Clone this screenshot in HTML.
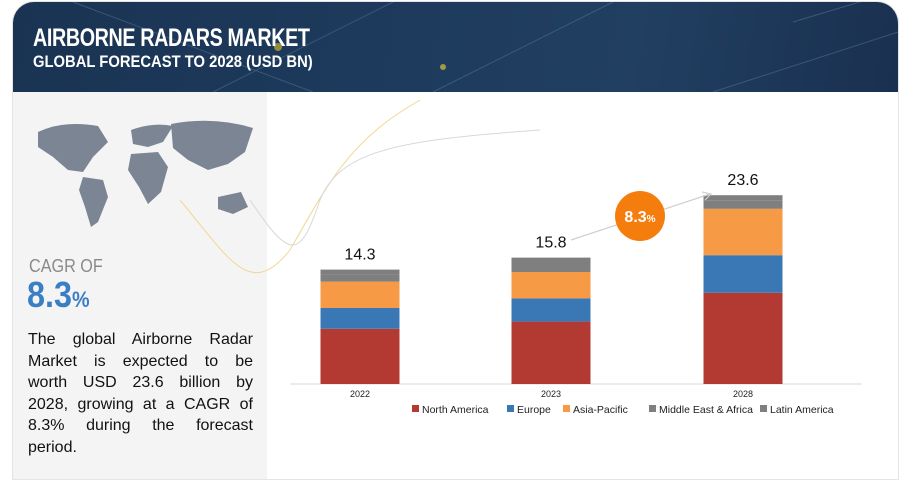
<!DOCTYPE html>
<html><head><meta charset="utf-8"><style>
body{margin:0;width:900px;height:481px;background:#fff;font-family:"Liberation Sans",sans-serif;overflow:hidden;position:relative}
#card{position:absolute;left:12px;top:1px;width:885px;height:477px;border:1px solid #e4e4e4;border-radius:22px 22px 0 0;overflow:hidden}
#hdr{position:absolute;left:0;top:0;width:885px;height:90px;background:linear-gradient(100deg,#1a3352 0%,#1d3a5c 40%,#213f61 70%,#1a3050 100%)}
#hdr h1{position:absolute;left:20px;top:22px;margin:0;color:#fff;font-size:25px;font-weight:bold;letter-spacing:-0.5px;transform:scaleX(0.79);transform-origin:0 0;white-space:nowrap}
#hdr h2{position:absolute;left:20px;top:50px;margin:0;color:#fff;font-size:17px;font-weight:bold;transform:scaleX(0.87);transform-origin:0 0;white-space:nowrap}
#left{position:absolute;left:0;top:90px;width:254px;height:387px;background:#f4f4f4}
#cagrl{position:absolute;left:16px;top:164px;font-size:18px;color:#8a8a8a;transform:scaleX(0.9);transform-origin:0 0}
#cagrv{position:absolute;left:14px;top:182px;font-size:36px;color:#3a7fc4;font-weight:bold;transform:scaleX(0.9);transform-origin:0 0}
#cagrv span{font-size:22px}
#para{position:absolute;left:15px;top:237px;width:225px;font-size:16px;line-height:21.5px;color:#111}
#para span{display:block;text-align:justify;text-align-last:justify;white-space:nowrap}
#para span.last{text-align-last:left}
</style></head><body>
<div id="card">
<div id="hdr">
<svg width="885" height="90" style="position:absolute;left:0;top:0">
<path d="M60 0 L300 90 M380 0 L200 90 M600 0 L420 90 M780 20 L880 -10 M700 90 L885 30" stroke="#5a7a9a" stroke-width="1" opacity="0.5"/>
<circle cx="265" cy="45" r="4" fill="#c9b030" opacity="0.7"/><circle cx="430" cy="65" r="3" fill="#d8c040" opacity="0.7"/>
</svg>
<h1>AIRBORNE RADARS MARKET</h1>
<h2>GLOBAL FORECAST TO 2028 (USD BN)</h2>
</div>
<div id="left">
<svg width="254" height="140" style="position:absolute;left:0;top:20px">
<g fill="#7b8593">
<path d="M25 20 Q50 8 85 14 L95 30 L80 45 L70 60 L55 58 L40 45 L25 35Z"/>
<path d="M70 65 L90 68 L95 85 L85 110 L78 115 L72 95 L66 78Z"/>
<path d="M118 18 Q140 10 160 14 L150 30 L135 35 L120 32Z"/>
<path d="M118 42 L145 40 L155 55 L148 80 L135 92 L126 75 L115 58Z"/>
<path d="M158 12 Q200 4 240 16 L232 40 L215 52 L195 58 L175 48 L160 36Z"/>
<path d="M205 85 L228 80 L235 95 L220 102 L205 97Z"/>
</g></svg>
<div id="cagrl">CAGR OF</div>
<div id="cagrv">8.3<span>%</span></div>
<div id="para"><span>The global Airborne Radar</span><span>Market is expected to be</span><span>worth USD 23.6 billion by</span><span>2028, growing at a CAGR of</span><span>8.3% during the forecast</span><span class="last">period.</span></div>
</div>
</div>
<svg id="chart" width="900" height="481" style="position:absolute;left:0;top:0"></svg>
<script>
const categories=["2022","2023","2028"];
const northAmerica=[6.9,7.8,11.4];
const europe=[2.6,2.9,4.7];
const asiaPacific=[3.3,3.3,5.8];
const middleEastAfrica=[0.9,1.0,1.0];
const latinAmerica=[0.6,0.8,0.7];
const totals=["14.3","15.8","23.6"];
const seriesNames=["North America","Europe","Asia-Pacific","Middle East & Africa","Latin America"];
const series=[northAmerica,europe,asiaPacific,middleEastAfrica,latinAmerica];
const colors=["#b33a32","#3a78b5","#f79a45","#7f7f7f","#7f7f7f"];
const NS="http://www.w3.org/2000/svg";
const svg=document.getElementById('chart');
const base=384,scale=8.0,bw=79;
const xc=i=>[360,551,743][i];
const y=v=>base-v*scale;
function mk(t,a){const e=document.createElementNS(NS,t);for(const k in a)e.setAttribute(k,a[k]);svg.appendChild(e);return e;}
let c=mk('path',{d:'M180 200 C230 260 250 300 290 250 C330 180 350 140 420 100',fill:'none',stroke:'#f0d890','stroke-width':1});


let c2=mk('path',{d:'M250 200 C290 260 300 260 320 200 C340 150 400 140 540 130',fill:'none',stroke:'#d8d8d8','stroke-width':1});


let ax=mk('line',{x1:290,x2:862,y1:base,y2:base,stroke:'#d9d9d9','stroke-width':1});


categories.forEach((cat,i)=>{
  let acc=0;
  series.forEach((s,j)=>{
    const r=mk('rect',{x:xc(i)-bw/2,y:y(acc+s[i]),width:bw,height:s[i]*scale,fill:colors[j]});
    
    
    acc+=s[i];
  });
  const t=mk('text',{x:xc(i),y:y(acc)-10,'text-anchor':'middle','font-size':16,fill:'#111'});
  t.textContent=totals[i];
  
  
  const l=mk('text',{x:xc(i),y:397,'text-anchor':'middle','font-size':9,fill:'#222'});
  l.textContent=cat;
  
  
});
let ar=mk('path',{d:'M571 240 L710 194 M702 192 L711 194 L705 200',fill:'none',stroke:'#d0d0d0','stroke-width':1.2});


let ci=mk('circle',{cx:640,cy:216,r:25,fill:'#f47d0e'});


let ct=mk('text',{x:640,y:222,'text-anchor':'middle','font-size':16,fill:'#fff','font-weight':'bold'});
ct.innerHTML='8.3<tspan font-size="10">%</tspan>';


const lx=[412,507,563,649,760];
seriesNames.forEach((n,j)=>{
  const r=mk('rect',{x:lx[j],y:405,width:7,height:7,fill:colors[j]});
  
  
  const t=mk('text',{x:lx[j]+10,y:413,'font-size':10.5,fill:'#222'});
  t.textContent=n;
  
  
});
</script>
</body></html>
